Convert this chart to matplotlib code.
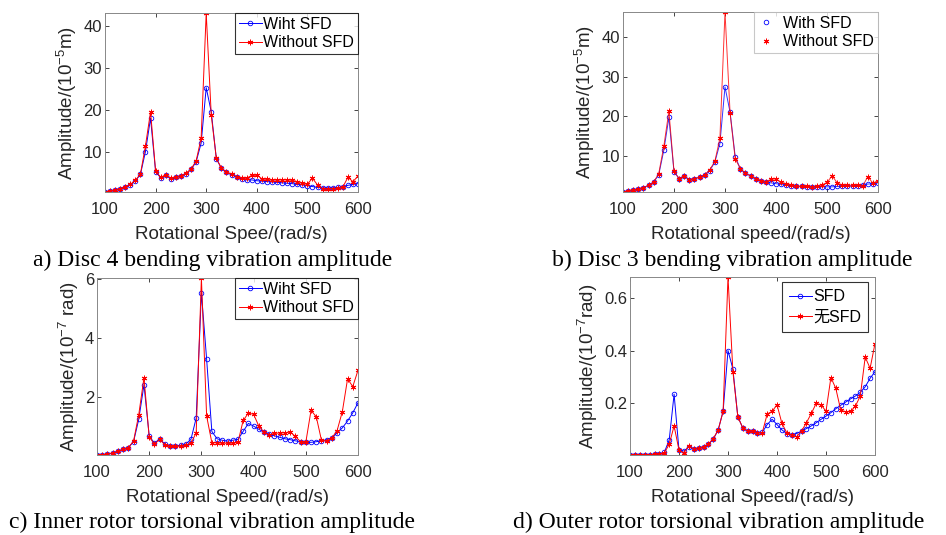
import numpy as np
import matplotlib
matplotlib.use("Agg")
import matplotlib.pyplot as plt

speed = list(range(100, 601, 10))

a_with = [0.3, 0.5, 0.8, 1.1, 1.5, 2.0, 3.0, 4.5, 10.0, 18.0, 5.2, 3.7, 4.3, 3.5, 3.8, 4.1, 4.7, 5.7, 7.5, 12.0,
          25.3, 19.5, 8.3, 6.0, 5.0, 4.4, 3.9, 3.4, 3.2, 3.2, 3.0, 2.9, 2.8, 2.7, 2.6, 2.5, 2.4, 2.3, 2.1, 2.0,
          1.8, 1.6, 1.4, 1.3, 1.3, 1.3, 1.4, 1.6, 1.9, 2.1, 2.3]
a_without = [0.3, 0.5, 0.8, 1.1, 1.6, 2.1, 3.1, 4.6, 11.4, 19.5, 5.4, 3.8, 4.4, 3.6, 3.9, 4.2, 4.8, 5.8, 7.7, 13.2,
             43.2, 18.7, 8.4, 6.0, 5.1, 4.6, 4.0, 3.6, 3.6, 4.3, 4.3, 3.5, 3.3, 3.2, 3.2, 3.2, 3.2, 3.1, 2.8, 2.5,
             2.2, 3.6, 2.0, 1.0, 1.0, 1.1, 1.2, 1.5, 3.8, 2.8, 4.1]

b_with = [0.9, 1.1, 1.3, 1.6, 2.0, 2.6, 3.4, 5.2, 11.4, 19.7, 6.0, 4.3, 4.9, 4.0, 4.3, 4.6, 5.2, 6.3, 8.4, 13.1,
          27.4, 21.0, 9.8, 6.8, 5.6, 5.0, 4.2, 3.7, 3.3, 3.2, 3.0, 2.8, 2.6, 2.5, 2.4, 2.3, 2.2, 2.2, 2.2, 2.2,
          2.2, 2.2, 2.3, 2.3, 2.4, 2.4, 2.5, 2.7, 2.9, 3.0, 3.2]
b_without = [0.9, 1.1, 1.3, 1.6, 2.0, 2.6, 3.4, 5.5, 12.4, 21.3, 6.1, 4.3, 5.0, 4.0, 4.3, 4.6, 5.2, 6.5, 8.6, 14.4,
             46.3, 20.7, 9.3, 6.8, 5.6, 5.0, 4.3, 3.8, 3.5, 4.1, 4.2, 3.3, 3.0, 2.6, 2.4, 2.3, 2.3, 2.2, 2.4, 2.7,
             3.3, 5.0, 3.2, 2.6, 2.6, 2.6, 2.6, 2.4, 4.8, 3.1, 3.8]

c_with = [0.05, 0.05, 0.08, 0.12, 0.17, 0.24, 0.3, 0.5, 1.26, 2.43, 0.7, 0.45, 0.6, 0.42, 0.36, 0.36, 0.38, 0.42, 0.58, 1.3,
          5.55, 3.3, 0.85, 0.6, 0.55, 0.52, 0.55, 0.58, 0.85, 1.12, 1.03, 0.92, 0.83, 0.76, 0.7, 0.65, 0.6, 0.57, 0.53, 0.5,
          0.48, 0.48, 0.5, 0.53, 0.57, 0.63, 0.8, 0.97, 1.2, 1.48, 1.82]
c_without = [0.05, 0.05, 0.08, 0.12, 0.17, 0.24, 0.3, 0.52, 1.42, 2.67, 0.66, 0.42, 0.58, 0.4, 0.34, 0.34, 0.35, 0.38, 0.45, 0.8,
             6.05, 1.37, 0.47, 0.46, 0.45, 0.45, 0.45, 0.48, 1.22, 1.47, 1.43, 1.03, 0.82, 0.74, 0.78, 0.8, 0.8, 0.83, 0.68, 0.5,
             0.48, 1.56, 1.35, 0.55, 0.52, 0.63, 0.88, 1.52, 2.63, 2.37, 2.92]

d_with = [0.005, 0.005, 0.005, 0.006, 0.006, 0.007, 0.008, 0.015, 0.062, 0.235, 0.023, 0.02, 0.035, 0.027, 0.03, 0.035, 0.045, 0.065, 0.1, 0.17,
          0.4, 0.33, 0.15, 0.108, 0.095, 0.095, 0.09, 0.091, 0.12, 0.14, 0.12, 0.1, 0.086, 0.082, 0.086, 0.095, 0.105, 0.115, 0.127, 0.14,
          0.152, 0.165, 0.18, 0.193, 0.205, 0.217, 0.228, 0.242, 0.263, 0.295, 0.32]
d_without = [0.005, 0.005, 0.005, 0.006, 0.006, 0.007, 0.008, 0.013, 0.045, 0.115, 0.023, 0.012, 0.04, 0.028, 0.032, 0.036, 0.046, 0.067, 0.1, 0.17,
             0.678, 0.32, 0.15, 0.108, 0.095, 0.095, 0.09, 0.09, 0.16, 0.17, 0.195, 0.125, 0.089, 0.08, 0.074, 0.095, 0.127, 0.162, 0.2, 0.195,
             0.17, 0.298, 0.257, 0.175, 0.168, 0.17, 0.19, 0.228, 0.375, 0.333, 0.426]

x_ticks = [100, 200, 300, 400, 500, 600]
a_yticks = [10, 20, 30, 40]
b_yticks = [10, 20, 30, 40]
c_yticks = [2, 4, 6]
d_yticks = [0.2, 0.4, 0.6]

a_labels = ["Wiht SFD", "Without SFD"]
b_labels = ["With SFD", "Without SFD"]
c_labels = ["Wiht SFD", "Without SFD"]
d_labels = ["SFD", "无SFD"]

xlabels = ["Rotational Spee/(rad/s)", "Rotational speed/(rad/s)",
           "Rotational Speed/(rad/s)", "Rotational Speed/(rad/s)"]
ylabels = ["Amplitude/(10$^{-5}$m)", "Amplitude/(10$^{-5}$m)",
           "Amplitude/(10$^{-7}$ rad)", "Amplitude/(10$^{-7}$rad)"]
captions = ["a) Disc 4 bending vibration amplitude", "b) Disc 3 bending vibration amplitude",
            "c) Inner rotor torsional vibration amplitude", "d) Outer rotor torsional vibration amplitude"]

plt.rcParams['font.family'] = ['Liberation Sans', 'Noto Sans CJK SC', 'DejaVu Sans']
plt.rcParams['mathtext.fontset'] = 'custom'
plt.rcParams['mathtext.rm'] = 'Liberation Sans'
plt.rcParams['mathtext.it'] = 'Liberation Sans'

W, H = 946, 535
fig = plt.figure(figsize=(W / 100, H / 100), dpi=100)

def box(l, r, t, b):
    return [l / W, 1 - b / H, (r - l) / W, (b - t) / H]

positions = [box(105, 358, 13, 192), box(623, 878, 12, 192),
             box(97, 358, 278, 455), box(630, 875, 277, 455)]
data = [(a_with, a_without, a_yticks, a_labels),
        (b_with, b_without, b_yticks, b_labels),
        (c_with, c_without, c_yticks, c_labels),
        (d_with, d_without, d_yticks, d_labels)]

asterisk = (6, 2, 0)
gray = '#262626'
for i, (pos, (yw, yo, yt, labs)) in enumerate(zip(positions, data)):
    ax = fig.add_axes(pos)
    if i == 1:
        ax.plot(speed, yw, '-', color='blue', lw=0.7, alpha=0.8)
        ax.plot(speed, yw, 'o', color='blue', mfc='none', ms=3.3, mew=0.6, label=labs[0])
        ax.plot(speed, yo, '-', color='red', lw=0.7, alpha=0.8)
        ax.plot(speed, yo, linestyle='none', marker=asterisk, color='red', ms=4, mew=0.7, label=labs[1])
    else:
        ax.plot(speed, yw, '-o', color='blue', lw=0.7, mfc='none', ms=3.3, mew=0.6, label=labs[0])
        ax.plot(speed, yo, '-', marker=asterisk, color='red', lw=0.7, ms=4, mew=0.7, label=labs[1])
    ax.set_xlim(100, 600)
    ax.set_ylim(min(min(yw), min(yo)), max(max(yw), max(yo)))
    ax.set_xticks(x_ticks)
    ax.set_yticks(yt)
    ax.tick_params(direction='in', top=True, right=True, length=3, width=0.6,
                   colors=gray, labelsize=12)
    ax.tick_params(axis='x', pad=7)
    ax.tick_params(axis='y', pad=2)
    for s in ax.spines.values():
        s.set_color('#888888')
        s.set_linewidth(0.7)
    ax.set_xlabel(xlabels[i], fontsize=13.5, color=gray, labelpad=6.5)
    ax.set_ylabel(ylabels[i], fontsize=13.5, color=gray, labelpad=3)
    if i == 3:
        leg = ax.legend(loc='upper right', bbox_to_anchor=(0.973, 0.972), fontsize=11.5,
                        frameon=True, fancybox=False, borderpad=0.45, labelspacing=0.35,
                        handlelength=1.4, handletextpad=0.1, borderaxespad=0.0)
    else:
        leg = ax.legend(loc='upper right', fontsize=11.5, frameon=True, fancybox=False,
                        borderpad=0.25, labelspacing=0.2,
                        handlelength=(1.0 if i == 1 else 1.4), handletextpad=(0.6 if i == 1 else 0.1),
                        borderaxespad=0.0)
    leg.get_frame().set_edgecolor('black' if i != 1 else '#bbbbbb')
    leg.get_frame().set_linewidth(0.8)

cap_pos = [(213, 260), (732, 260), (212, 522), (719, 522)]
for (cx, cy), cap in zip(cap_pos, captions):
    fig.text(cx / W, 1 - cy / H, cap, ha='center', va='center',
             fontfamily='Liberation Serif', fontsize=17, color='black')

fig.savefig('out.png', dpi=100)
